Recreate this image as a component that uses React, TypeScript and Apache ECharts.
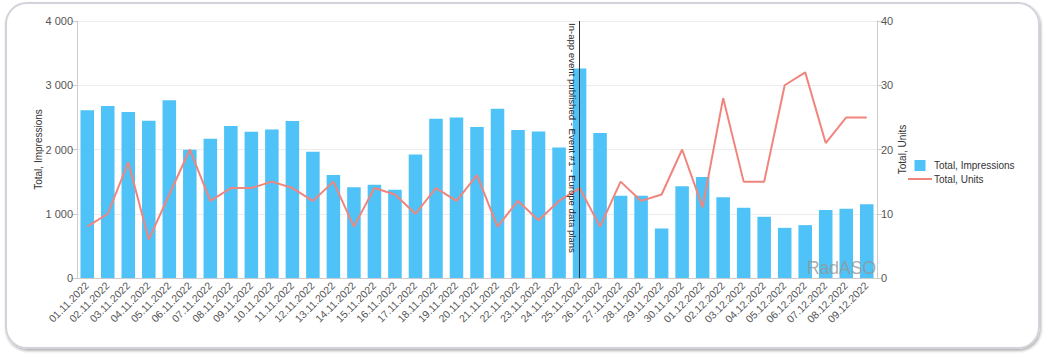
import React, { useEffect, useRef } from 'react';
import * as echarts from 'echarts';

const categories = [
  '01.11.2022', '02.11.2022', '03.11.2022', '04.11.2022', '05.11.2022', '06.11.2022', '07.11.2022',
  '08.11.2022', '09.11.2022', '10.11.2022', '11.11.2022', '12.11.2022', '13.11.2022', '14.11.2022',
  '15.11.2022', '16.11.2022', '17.11.2022', '18.11.2022', '19.11.2022', '20.11.2022', '21.11.2022',
  '22.11.2022', '23.11.2022', '24.11.2022', '25.11.2022', '26.11.2022', '27.11.2022', '28.11.2022',
  '29.11.2022', '30.11.2022', '01.12.2022', '02.12.2022', '03.12.2022', '04.12.2022', '05.12.2022',
  '06.12.2022', '07.12.2022', '08.12.2022', '09.12.2022',
];

const impressions = [
  2609, 2677, 2583, 2448, 2766, 1995, 2167, 2365, 2276, 2313, 2443, 1964, 1604,
  1411, 1453, 1375, 1922, 2479, 2500, 2349, 2635, 2302, 2281, 2031, 3260, 2255,
  1281, 1281, 771, 1427, 1573, 1255, 1094, 953, 781, 823, 1057, 1078, 1146,
];

const units = [
  8, 10, 18, 6, 13, 20, 12, 14, 14, 15, 14, 12, 15,
  8, 14, 13, 10, 14, 12, 16, 8, 12, 9, 12, 14, 8,
  15, 12, 13, 20, 11, 28, 15, 15, 30, 32, 21, 25, 25,
];

const eventDate = '25.11.2022';
const eventLabel = 'In-app event published - Event #1 - Europe data plans';

const leftAxis = { min: 0, max: 4000, interval: 1000 };
const rightAxis = { min: 0, max: 40, interval: 10 };

const FONT = '"Liberation Sans", Arial, sans-serif';

export default function App() {
  const ref = useRef<HTMLDivElement>(null);

  useEffect(() => {
    if (!ref.current) return;
    const chart = echarts.init(ref.current, undefined, { renderer: 'svg' });
    chart.setOption({
      animation: false,
      textStyle: { fontFamily: FONT },
      grid: { left: 77, right: 172, top: 21, bottom: 80 },
      legend: {
        orient: 'vertical',
        left: 908,
        top: 160,
        padding: 0,
        itemWidth: 24,
        itemHeight: 11,
        itemGap: 3,
        textStyle: { fontSize: 10, color: '#333', fontFamily: FONT, padding: [0, 0, 0, -3] },
        data: [
          { name: 'Total, Impressions', icon: 'path://M0 0H10V10H0Z' },
          { name: 'Total, Units', icon: 'path://M0 0H24V2H0Z' },
        ],
      },
      graphic: [
        {
          type: 'text',
          right: 173,
          bottom: 81,
          z: 100,
          style: {
            text: 'RadASO',
            fontSize: 17.5,
            fontFamily: FONT,
            fill: 'rgba(150,150,150,0.8)',
          },
        },
      ],
      xAxis: {
        type: 'category',
        data: categories,
        axisLine: { lineStyle: { color: '#ccc' } },
        axisTick: { lineStyle: { color: '#ccc' }, length: 5 },
        axisLabel: { rotate: 45, fontSize: 10.5, color: '#555', margin: 6, interval: 0, fontFamily: FONT },
      },
      yAxis: [
        {
          type: 'value',
          ...leftAxis,
          name: 'Total, Impressions',
          nameLocation: 'middle',
          nameGap: 34,
          nameMoveOverlap: false,
          nameTextStyle: { fontSize: 10, color: '#333', fontFamily: FONT },
          axisLine: { show: true, lineStyle: { color: '#ccc' } },
          axisTick: { show: true, length: 5, lineStyle: { color: '#ccc' } },
          axisLabel: {
            fontSize: 11,
            color: '#555',
            margin: 4,
            fontFamily: FONT,
            formatter: (v: number) => String(v).replace(/\B(?=(\d{3})+(?!\d))/g, ' '),
          },
          splitLine: { lineStyle: { color: '#ececec' } },
        },
        {
          type: 'value',
          ...rightAxis,
          name: 'Total, Units',
          nameLocation: 'middle',
          nameGap: 20,
          nameRotate: 90,
          nameMoveOverlap: false,
          nameTextStyle: { fontSize: 10, color: '#333', fontFamily: FONT },
          axisLine: { show: true, lineStyle: { color: '#ccc' } },
          axisTick: { show: true, length: 5, lineStyle: { color: '#ccc' } },
          axisLabel: { fontSize: 11, color: '#555', margin: 4, fontFamily: FONT },
          splitLine: { show: false },
        },
      ],
      series: [
        {
          name: 'Total, Impressions',
          type: 'bar',
          data: impressions,
          barCategoryGap: '34%',
          itemStyle: { color: '#4FC3F7' },
          markLine: {
            silent: true,
            symbol: 'none',
            lineStyle: { color: '#333', width: 1, type: 'solid' },
            label: {
              show: true,
              position: 'insideStartBottom',
              formatter: eventLabel,
              fontSize: 9.6,
              color: '#222',
              fontFamily: FONT,
              distance: 2,
            },
            data: [
              [
                { coord: [eventDate, leftAxis.max] },
                { coord: [eventDate, leftAxis.min] },
              ],
            ],
          },
        },
        {
          name: 'Total, Units',
          type: 'line',
          yAxisIndex: 1,
          data: units,
          symbol: 'none',
          lineStyle: { color: '#F0857D', width: 2 },
          itemStyle: { color: '#F0857D' },
        },
      ],
    });
    return () => chart.dispose();
  }, []);

  return (
    <div style={{ position: 'absolute', left: 0, top: 0, width: 1049, height: 358, background: '#fff' }}>
      <div
        style={{
          position: 'absolute',
          left: 5,
          top: 2,
          width: 1035,
          height: 347,
          boxSizing: 'border-box',
          border: '2px solid #d2d2da',
          borderRadius: 22,
          boxShadow: '1px 2px 3px rgba(0,0,0,0.3)',
        }}
      />
      <div ref={ref} style={{ position: 'absolute', left: 0, top: 0, width: 1049, height: 358 }} />
    </div>
  );
}
